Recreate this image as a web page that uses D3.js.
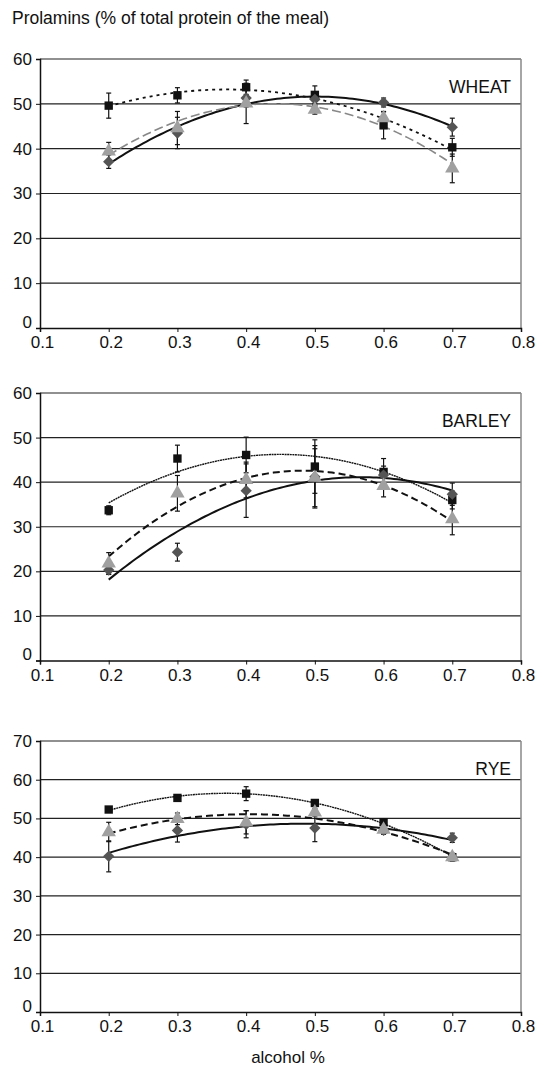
<!DOCTYPE html>
<html>
<head>
<meta charset="utf-8">
<script src="https://cdn.jsdelivr.net/npm/d3@7"></script>
<style>
  body { margin: 0; background: #fff; }
  svg text { font-family: "Liberation Sans", Arial, sans-serif; fill: #111; }
</style>
</head>
<body>
<svg id="chart" width="535" height="1069"></svg>
<script>
// alcohol concentration (x values shared by all panels)
const alcohol = [0.2, 0.3, 0.4, 0.5, 0.6, 0.7];
const xTicks = [0.1, 0.2, 0.3, 0.4, 0.5, 0.6, 0.7, 0.8];

// WHEAT
const wheatSquare   = [49.6, 51.9, 53.7, 52.0, 45.2, 40.3];
const wheatSquareErr = [2.8, 1.7, 1.6, 2.0, 3.0, 2.0];
const wheatDiamond  = [37.1, 43.5, 51.3, 51.0, 50.3, 44.8];
const wheatDiamondErr = [1.5, 3.5, 2.0, 1.5, 1.0, 2.0];
const wheatTriangle = [39.4, 44.6, 50.1, 48.7, 46.8, 35.6];
const wheatTriangleErr = [2.0, 3.7, 4.5, 1.0, 1.5, 3.2];

// BARLEY
const barleySquare   = [33.7, 45.3, 46.1, 43.5, 42.3, 36.0];
const barleySquareErr = [1.0, 3.0, 4.0, 6.0, 3.0, 2.0];
const barleyDiamond  = [20.3, 24.3, 38.1, 41.2, 41.6, 37.3];
const barleyDiamondErr = [1.0, 2.0, 6.0, 7.0, 2.0, 2.5];
const barleyTriangle = [21.8, 37.5, 40.5, 41.0, 39.2, 31.7];
const barleyTriangleErr = [2.4, 4.0, 4.0, 6.5, 2.5, 3.5];

// RYE
const ryeSquare   = [52.3, 55.3, 56.4, 54.0, 49.0, 40.0];
const ryeSquareErr = [0.5, 0.5, 1.8, 0.5, 0.8, 0.8];
const ryeDiamond  = [40.2, 46.9, 48.5, 47.5, 46.9, 45.0];
const ryeDiamondErr = [4.0, 3.0, 3.5, 3.5, 1.0, 1.2];
const ryeTriangle = [46.5, 49.9, 49.0, 51.6, 47.1, 40.0];
const ryeTriangleErr = [2.5, 1.5, 3.0, 1.0, 1.0, 1.0];

const svg = d3.select("#chart");
const left = 40, right = 521;

svg.append("text").attr("x", 12).attr("y", 24)
  .style("font-size", "17.5px")
  .text("Prolamins (% of total protein of the meal)");

svg.append("text").attr("x", 288).attr("y", 1063)
  .attr("text-anchor", "middle").style("font-size", "17px")
  .text("alcohol %");

// least squares quadratic, like a spreadsheet polynomial trendline
function polyFit(xs, ys){
  const S = [0,0,0,0,0], T = [0,0,0];
  xs.forEach((x,i) => {
    for (let k = 0; k < 5; k++) S[k] += Math.pow(x,k);
    for (let k = 0; k < 3; k++) T[k] += ys[i]*Math.pow(x,k);
  });
  const A = [[S[0],S[1],S[2],T[0]],[S[1],S[2],S[3],T[1]],[S[2],S[3],S[4],T[2]]];
  for (let c = 0; c < 3; c++){
    for (let r = c+1; r < 3; r++){
      const f = A[r][c]/A[c][c];
      for (let k = c; k < 4; k++) A[r][k] -= f*A[c][k];
    }
  }
  const b = [0,0,0];
  for (let r = 2; r >= 0; r--){
    let s = A[r][3];
    for (let k = r+1; k < 3; k++) s -= A[r][k]*b[k];
    b[r] = s/A[r][r];
  }
  return x => b[0] + b[1]*x + b[2]*x*x;
}

function drawPanel(cfg){
  const x = d3.scaleLinear().domain([0.1, 0.8]).range([left, right]);
  const y = d3.scaleLinear().domain([0, cfg.yMax]).range([cfg.bottom, cfg.top]);
  const g = svg.append("g");

  // grid lines
  g.selectAll(".grid").data(d3.range(10, cfg.yMax + 1, 10)).enter()
    .append("line")
    .attr("x1", left).attr("x2", right)
    .attr("y1", d => y(d)).attr("y2", d => y(d))
    .attr("stroke", "#222").attr("stroke-width", 1.2);

  // right border
  g.append("line").attr("x1", right).attr("x2", right)
    .attr("y1", cfg.top).attr("y2", cfg.bottom)
    .attr("stroke", "#888").attr("stroke-width", 1.5);

  const yAxis = g.append("g").attr("transform", "translate(" + left + ",0)")
    .call(d3.axisLeft(y).tickValues(d3.range(0, cfg.yMax + 1, 10)).tickSize(4).tickPadding(4));
  const xAxis = g.append("g").attr("transform", "translate(0," + cfg.bottom + ")")
    .call(d3.axisBottom(x).tickValues(xTicks).tickFormat(d3.format(".1f")).tickSize(4).tickPadding(4));
  [yAxis, xAxis].forEach(a => {
    a.select(".domain").attr("stroke", "#111").attr("stroke-width", 1.5);
    a.selectAll(".tick line").attr("stroke", "#111");
    a.selectAll("text").style("font-size", "17px").attr("fill", "#111");
  });
  xAxis.selectAll("text").attr("dx", 2);
  yAxis.selectAll(".tick").filter(d => d === 0).select("text").attr("dy", "-0.05em");

  g.append("text").attr("x", 511).attr("y", cfg.top + 34)
    .attr("text-anchor", "end").style("font-size", "17.5px").text(cfg.name);

  // trendlines
  const xs = d3.range(0.2, 0.7001, 0.005);
  cfg.series.forEach(s => {
    const f = polyFit(alcohol, s.values);
    const line = d3.line().x(d => x(d)).y(d => y(f(d)));
    g.append("path").datum(xs)
      .attr("d", line).attr("fill", "none")
      .attr("stroke", s.lineColor).attr("stroke-width", s.lineWidth)
      .attr("stroke-dasharray", s.dash);
  });

  // error bars
  cfg.series.forEach(s => {
    const eb = g.append("g");
    alcohol.forEach((a, i) => {
      const v = s.values[i], e = s.errors[i];
      eb.append("line").attr("x1", x(a)).attr("x2", x(a))
        .attr("y1", y(v - e)).attr("y2", y(v + e))
        .attr("stroke", "#111").attr("stroke-width", 1.2);
      [v - e, v + e].forEach(c => eb.append("line")
        .attr("x1", x(a) - 2.5).attr("x2", x(a) + 2.5)
        .attr("y1", y(c)).attr("y2", y(c))
        .attr("stroke", "#111").attr("stroke-width", 1.2));
    });
  });

  // markers: squares under diamonds under triangles
  cfg.series.forEach(s => {
    g.selectAll(null).data(alcohol).enter().append("path")
      .attr("transform", (d, i) => "translate(" + x(d) + "," + y(s.values[i]) + ")" + (s.shape === "diamond" ? " rotate(45)" : ""))
      .attr("d", d3.symbol().type(s.shape === "triangle" ? d3.symbolTriangle : d3.symbolSquare).size(s.size)())
      .attr("fill", s.color);
  });
}

const panels = [
  { name: "WHEAT", top: 59, bottom: 328, yMax: 60, series: [
    { shape: "square", values: wheatSquare, errors: wheatSquareErr, color: "#111", size: 70, lineColor: "#111", lineWidth: 1.8, dash: "3,4" },
    { shape: "diamond", values: wheatDiamond, errors: wheatDiamondErr, color: "#555", size: 64, lineColor: "#111", lineWidth: 2, dash: null },
    { shape: "triangle", values: wheatTriangle, errors: wheatTriangleErr, color: "#a0a0a0", size: 90, lineColor: "#888", lineWidth: 1.6, dash: "9,4" }
  ]},
  { name: "BARLEY", top: 393, bottom: 660.5, yMax: 60, series: [
    { shape: "square", values: barleySquare, errors: barleySquareErr, color: "#111", size: 70, lineColor: "#111", lineWidth: 1.4, dash: "2,0.6" },
    { shape: "diamond", values: barleyDiamond, errors: barleyDiamondErr, color: "#555", size: 64, lineColor: "#111", lineWidth: 2, dash: null },
    { shape: "triangle", values: barleyTriangle, errors: barleyTriangleErr, color: "#a0a0a0", size: 90, lineColor: "#111", lineWidth: 2, dash: "7,4" }
  ]},
  { name: "RYE", top: 741, bottom: 1012, yMax: 70, series: [
    { shape: "square", values: ryeSquare, errors: ryeSquareErr, color: "#111", size: 70, lineColor: "#111", lineWidth: 1.4, dash: "2,0.6" },
    { shape: "diamond", values: ryeDiamond, errors: ryeDiamondErr, color: "#555", size: 64, lineColor: "#111", lineWidth: 2, dash: null },
    { shape: "triangle", values: ryeTriangle, errors: ryeTriangleErr, color: "#a0a0a0", size: 90, lineColor: "#111", lineWidth: 2, dash: "7,4" }
  ]}
];

panels.forEach(drawPanel);
</script>
</body>
</html>
